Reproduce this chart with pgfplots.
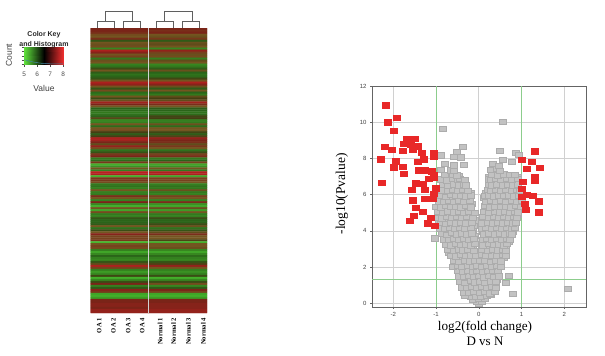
\documentclass[border=0pt]{standalone}
\usepackage{pgfplots}
\pgfplotsset{compat=1.18}
\usepackage{fontspec}
\setmainfont{Liberation Serif}
\newfontfamily\sansf{Liberation Sans}
\definecolor{gfill}{RGB}{194,194,194}
\definecolor{gedge}{RGB}{172,172,172}
\definecolor{rfill}{RGB}{232,40,40}
\definecolor{gline}{RGB}{140,205,140}
\definecolor{gridc}{RGB}{208,208,208}
\definecolor{framec}{RGB}{100,100,100}
\definecolor{dend}{RGB}{95,95,95}
\begin{document}
\begin{tikzpicture}[x=1pt,y=1pt]
\useasboundingbox (0pt,0pt) rectangle (605pt,356pt);
% heat map
\begin{axis}[at={(90.7pt,43pt)},anchor=south west,scale only axis,width=116.3pt,height=285pt,
 hide axis,xmin=-0.5,xmax=1.5,ymin=0.5,ymax=143.5,y dir=reverse,
 colormap={hm}{rgb255(0)=(70,185,45) rgb255(1)=(55,135,32) rgb255(2)=(42,100,25) rgb255(3)=(68,62,18) rgb255(4)=(115,85,32) rgb255(5)=(122,36,24) rgb255(6)=(185,32,32)},
 point meta min=5,point meta max=8]
\addplot[matrix plot*,mesh/cols=2,point meta=explicit] table[meta=v,row sep=\\]{
x y v\\
0 1 7.5\\1 1 7.5\\0 2 7.5\\1 2 7.4\\0 3 7.4\\1 3 7.5\\0 4 7.1\\1 4 7.0\\0 5 7.0\\1 5 6.9\\0 6 7.4\\1 6 7.3\\0 7 6.2\\1 7 6.1\\0 8 7.0\\1 8 6.9\\0 9 6.9\\1 9 6.8\\0 10 7.1\\1 10 7.0\\
0 11 5.5\\1 11 5.5\\0 12 7.9\\1 12 7.7\\0 13 7.6\\1 13 7.2\\0 14 7.0\\1 14 6.9\\0 15 7.2\\1 15 7.1\\0 16 5.7\\1 16 5.6\\0 17 6.9\\1 17 6.8\\0 18 7.0\\1 18 7.0\\0 19 5.6\\1 19 5.5\\0 20 5.8\\1 20 5.7\\
0 21 6.3\\1 21 6.1\\0 22 7.0\\1 22 6.9\\0 23 6.1\\1 23 6.0\\0 24 5.8\\1 24 5.8\\0 25 6.0\\1 25 5.9\\0 26 6.2\\1 26 6.4\\0 27 7.0\\1 27 7.0\\0 28 7.9\\1 28 7.9\\0 29 7.7\\1 29 7.6\\0 30 7.0\\1 30 6.9\\
0 31 6.2\\1 31 6.1\\0 32 7.1\\1 32 7.0\\0 33 5.9\\1 33 6.0\\0 34 5.7\\1 34 5.7\\0 35 7.0\\1 35 6.8\\0 36 6.3\\1 36 6.5\\0 37 6.9\\1 37 6.8\\0 38 7.8\\1 38 7.8\\0 39 7.5\\1 39 7.4\\0 40 7.0\\1 40 7.0\\
0 41 6.0\\1 41 6.1\\0 42 5.9\\1 42 6.0\\0 43 5.7\\1 43 5.8\\0 44 5.8\\1 44 5.9\\0 45 6.0\\1 45 6.4\\0 46 6.7\\1 46 6.5\\0 47 5.5\\1 47 5.6\\0 48 5.6\\1 48 5.7\\0 49 7.0\\1 49 6.9\\0 50 5.9\\1 50 5.9\\
0 51 7.0\\1 51 7.0\\0 52 7.1\\1 52 7.0\\0 53 6.5\\1 53 6.4\\0 54 6.1\\1 54 6.1\\0 55 6.5\\1 55 6.6\\0 56 7.9\\1 56 7.7\\0 57 7.8\\1 57 7.5\\0 58 7.5\\1 58 7.4\\0 59 6.8\\1 59 6.8\\0 60 7.7\\1 60 7.3\\
0 61 7.1\\1 61 7.0\\0 62 5.8\\1 62 5.8\\0 63 6.2\\1 63 6.3\\0 64 7.3\\1 64 7.2\\0 65 7.5\\1 65 7.4\\0 66 5.7\\1 66 5.7\\0 67 5.9\\1 67 6.0\\0 68 7.3\\1 68 7.2\\0 69 5.1\\1 69 5.2\\0 70 5.4\\1 70 5.4\\
0 71 7.0\\1 71 7.0\\0 72 5.6\\1 72 5.7\\0 73 8.0\\1 73 7.9\\0 74 7.9\\1 74 7.9\\0 75 5.1\\1 75 5.2\\0 76 7.3\\1 76 7.2\\0 77 7.3\\1 77 7.2\\0 78 7.1\\1 78 7.0\\0 79 5.7\\1 79 5.6\\0 80 5.8\\1 80 5.8\\
0 81 5.6\\1 81 5.7\\0 82 7.0\\1 82 6.9\\0 83 5.6\\1 83 5.7\\0 84 5.7\\1 84 5.6\\0 85 7.4\\1 85 7.2\\0 86 7.0\\1 86 7.0\\0 87 5.6\\1 87 5.6\\0 88 7.5\\1 88 7.4\\0 89 5.5\\1 89 5.4\\0 90 5.1\\1 90 5.2\\
0 91 7.0\\1 91 6.9\\0 92 5.2\\1 92 5.3\\0 93 7.1\\1 93 7.0\\0 94 5.7\\1 94 5.7\\0 95 5.6\\1 95 5.6\\0 96 6.2\\1 96 6.3\\0 97 6.0\\1 97 6.0\\0 98 6.0\\1 98 6.0\\0 99 6.1\\1 99 6.3\\0 100 7.0\\1 100 6.9\\
0 101 5.8\\1 101 5.8\\0 102 6.3\\1 102 6.2\\0 103 7.0\\1 103 6.8\\0 104 7.6\\1 104 7.4\\0 105 7.2\\1 105 7.0\\0 106 7.2\\1 106 7.0\\0 107 7.3\\1 107 6.6\\0 108 5.0\\1 108 5.1\\0 109 7.0\\1 109 7.0\\0 110 7.2\\1 110 7.0\\
0 111 7.1\\1 111 6.9\\0 112 5.6\\1 112 5.5\\0 113 5.2\\1 113 5.2\\0 114 5.5\\1 114 5.5\\0 115 6.0\\1 115 5.9\\0 116 5.6\\1 116 5.6\\0 117 5.5\\1 117 5.5\\0 118 6.2\\1 118 6.2\\0 119 6.8\\1 119 6.6\\0 120 7.9\\1 120 7.7\\
0 121 7.2\\1 121 7.0\\0 122 5.6\\1 122 5.6\\0 123 5.3\\1 123 5.4\\0 124 5.5\\1 124 5.6\\0 125 6.4\\1 125 6.3\\0 126 5.1\\1 126 5.1\\0 127 5.5\\1 127 5.5\\0 128 6.3\\1 128 6.3\\0 129 7.5\\1 129 7.1\\0 130 5.6\\1 130 5.5\\
0 131 6.1\\1 131 6.1\\0 132 7.6\\1 132 7.5\\0 133 7.3\\1 133 7.2\\0 134 5.2\\1 134 5.2\\0 135 5.1\\1 135 5.1\\0 136 5.3\\1 136 5.3\\0 137 7.5\\1 137 7.5\\0 138 7.5\\1 138 7.5\\0 139 7.6\\1 139 7.6\\0 140 7.6\\1 140 7.6\\
0 141 7.5\\1 141 7.6\\0 142 7.7\\1 142 7.7\\0 143 7.7\\1 143 7.7\\
};
\addplot[draw=white!82!black,line width=0.8pt] coordinates {(0.5,0.5) (0.5,143.5)};
\end{axis}
% dendrogram
\begin{scope}[draw=dend,line width=0.9pt]
\draw (97.3,328)--(97.3,334.3)--(114.7,334.3)--(114.7,328);
\draw (123.3,328)--(123.3,335)--(140.7,335)--(140.7,328);
\draw (105.3,334.3)--(105.3,345)--(132.7,345)--(132.7,335);
\draw (156.7,328)--(156.7,334.3)--(173.7,334.3)--(173.7,328);
\draw (182.3,328)--(182.3,335)--(199.3,335)--(199.3,328);
\draw (164.3,334.3)--(164.3,345)--(192,345)--(192,335);
\end{scope}
% column labels
\begin{scope}[font=\fontsize{6.6}{7}\selectfont\bfseries]
\node[rotate=90,anchor=east,inner sep=0pt] at (99.3,38) {OA 1};
\node[rotate=90,anchor=east,inner sep=0pt] at (113.5,38) {OA 2};
\node[rotate=90,anchor=east,inner sep=0pt] at (128.3,38) {OA 3};
\node[rotate=90,anchor=east,inner sep=0pt] at (142.3,38) {OA 4};
\node[rotate=90,anchor=east,inner sep=0pt] at (160,38) {Normal 1};
\node[rotate=90,anchor=east,inner sep=0pt] at (173.5,38) {Normal 2};
\node[rotate=90,anchor=east,inner sep=0pt] at (188.3,38) {Normal 3};
\node[rotate=90,anchor=east,inner sep=0pt] at (203.3,38) {Normal 4};
\end{scope}
% colour key
\begin{axis}[at={(24.3pt,291.7pt)},anchor=south west,scale only axis,width=39pt,height=17pt,
 xmin=5,xmax=8,ymin=0,ymax=1,view={0}{90},
 colormap={key}{rgb255(0)=(95,225,60) rgb255(1)=(0,0,0) rgb255(2)=(235,45,45)},
 xtick={5,6,7,8},ytick={0,0.25,0.5,0.75,1},yticklabels={},
 tick align=outside,tick style={draw=black!70,line width=0.4pt},major tick length=2.5pt,
 axis line style={draw=black!40,line width=0.4pt},
 /pgf/number format/assume math mode=true,
 tick label style={font=\fontsize{6.5}{7}\selectfont\sansf,text=black!70},
 xticklabel style={yshift=-2pt},xtick pos=bottom,ytick pos=left]
\addplot[surf,shader=interp,point meta=x,mesh/rows=2] coordinates {(5,0) (6.5,0) (8,0) (5,1) (6.5,1) (8,1)};
\addplot[draw=cyan!60!black,line width=0.5pt] coordinates {(5,0.28) (5.3,0.2) (5.8,0.12) (6.3,0.06) (7,0.03) (8,0.02)};
\end{axis}
\node[font=\fontsize{7}{7}\selectfont\sansf\bfseries,text=black!85] at (44,321.3) {Color Key};
\node[font=\fontsize{7}{7}\selectfont\sansf\bfseries,text=black!85] at (44,311.7) {and Histogram};
\node[font=\fontsize{8.5}{8}\selectfont\sansf,rotate=90,text=black!75] at (9,301) {Count};
\node[font=\fontsize{8.5}{8}\selectfont\sansf,text=black!75] at (44,267.3) {Value};
% volcano
\begin{axis}[at={(372pt,49pt)},anchor=south west,scale only axis,width=214pt,height=221pt,
 xmin=-2.5,xmax=2.51,ymin=-0.2,ymax=12,
 xtick={-2,-1,0,1,2},ytick={0,2,4,6,8,10,12},
 grid=major,grid style={draw=gridc,line width=0.8pt},
 axis line style={draw=framec,line width=0.8pt},
 tick style={draw=framec,line width=0.4pt},major tick length=2pt,tick align=outside,
 xtick pos=bottom,ytick pos=left,
 /pgf/number format/assume math mode=true,
 tick label style={font=\fontsize{6}{6}\selectfont\sansf,text=black!75}]
\addplot[only marks,mark=square*,mark size=2.8pt,mark options={xscale=1.25,yscale=0.95,fill=gfill,draw=gedge,line width=0.3pt}] coordinates {
(-.38,1.05)(-.26,1.03)(-.14,1.07)(-.02,1.04)(.1,1.06)(.22,1.03)(.34,1.07)
(-.4,1.35)(-.28,1.33)(-.16,1.37)(-.04,1.34)(.08,1.36)(.2,1.33)(.32,1.37)(.42,1.34)
(-.44,1.65)(-.32,1.63)(-.2,1.67)(-.08,1.64)(.04,1.66)(.16,1.63)(.28,1.67)(.4,1.64)
(-.52,2.2)(-.4,2.18)(-.28,2.22)(-.16,2.19)(-.04,2.21)(.08,2.18)(.22,2.22)(.34,2.19)(.46,2.21)
(-.6,2.5)(-.5,2.48)(-.38,2.52)(-.26,2.49)(-.14,2.51)(-.03,2.48)(.1,2.52)(.22,2.49)(.35,2.51)(.47,2.48)(.58,2.52)
(-.7,2.8)(-.56,2.78)(-.44,2.82)(-.32,2.79)(-.2,2.81)(-.1,2.78)(.12,2.82)(.24,2.79)(.36,2.81)(.5,2.78)(.6,2.82)
(-.74,3.1)(-.62,3.08)(-.5,3.12)(-.38,3.09)(-.26,3.11)(-.14,3.08)(.14,3.12)(.26,3.09)(.4,3.11)(.52,3.08)(.62,3.12)
(-.76,3.4)(-.64,3.38)(-.52,3.42)(-.4,3.39)(-.28,3.41)(-.16,3.38)(.14,3.42)(.25,3.39)(.38,3.41)(.5,3.38)(.62,3.42)(.7,3.39)
(-.82,3.7)(-.7,3.68)(-.58,3.72)(-.46,3.69)(-.34,3.71)(-.22,3.68)(-.1,3.72)(.16,3.69)(.28,3.71)(.42,3.68)(.54,3.72)(.66,3.69)
(-.86,4)(-.74,3.98)(-.62,4.02)(-.5,3.99)(-.38,4.01)(-.26,3.98)(-.14,4.02)(.1,3.99)(.22,4.01)(.34,3.98)(.46,4.02)(.58,3.99)(.7,4.01)(.8,3.98)
(-.86,4.3)(-.74,4.28)(-.62,4.32)(-.5,4.29)(-.38,4.31)(-.26,4.28)(-.12,4.32)(.12,4.29)(.24,4.31)(.36,4.28)(.48,4.32)(.6,4.29)(.72,4.31)(.84,4.28)
(-.94,4.6)(-.82,4.58)(-.7,4.62)(-.58,4.59)(-.46,4.61)(-.34,4.58)(-.22,4.62)(-.1,4.59)(.14,4.61)(.26,4.58)(.38,4.62)(.5,4.59)(.62,4.61)(.74,4.58)(.86,4.62)
(-.9,4.9)(-.78,4.88)(-.66,4.92)(-.54,4.89)(-.42,4.91)(-.3,4.88)(-.18,4.92)(.16,4.89)(.28,4.91)(.4,4.88)(.52,4.92)(.64,4.89)(.76,4.91)(.9,4.88)
(-.92,5.2)(-.8,5.18)(-.68,5.22)(-.56,5.19)(-.44,5.21)(-.32,5.18)(-.2,5.22)(.18,5.19)(.3,5.21)(.42,5.18)(.54,5.22)(.66,5.19)(.8,5.21)(.94,5.18)
(-.88,5.5)(-.76,5.48)(-.64,5.52)(-.52,5.49)(-.4,5.51)(-.28,5.48)(-.16,5.52)(.2,5.49)(.32,5.51)(.44,5.48)(.56,5.52)(.68,5.49)(.82,5.51)(.94,5.48)
(-.84,5.8)(-.72,5.78)(-.6,5.82)(-.48,5.79)(-.36,5.81)(-.24,5.78)(.12,5.82)(.26,5.79)(.38,5.81)(.5,5.78)(.62,5.82)(.76,5.79)(.9,5.81)
(-.82,6.1)(-.7,6.08)(-.58,6.12)(-.46,6.09)(-.34,6.11)(-.2,6.08)(.16,6.12)(.3,6.09)(.44,6.11)(.56,6.08)(.7,6.12)(.82,6.09)(.94,6.11)
(-.8,6.4)(-.68,6.38)(-.56,6.42)(-.44,6.39)(-.3,6.41)(.22,6.38)(.36,6.42)(.48,6.39)(.6,6.41)(.72,6.38)(.86,6.42)
(-.78,6.7)(-.66,6.68)(-.54,6.72)(-.42,6.69)(-.34,6.71)(.24,6.68)(.36,6.72)(.48,6.69)(.6,6.71)(.72,6.68)(.86,6.72)
(-.7,7)(-.56,6.98)(-.46,7.02)(.24,6.99)(.36,7.01)(.5,6.98)(.64,7.02)(.78,6.99)(.92,7.01)
(0,.02)(-.06,.1)(.07,.12)(-.14,.22)(0,.25)(.13,.25)(-.2,.38)(-.08,.4)(.05,.38)(.18,.42)(-.33,.45)(.27,.5)
(-.36,.62)(-.24,.58)(-.12,.66)(.01,.6)(.13,.64)(.25,.57)(.36,.63)
(-.4,.9)(-.29,.86)(-.17,.94)(-.05,.88)(.07,.92)(.19,.85)(.31,.93)(.4,.88)
(-.44,1.2)(-.32,1.16)(-.2,1.24)(-.09,1.18)(.03,1.22)(.14,1.15)(.27,1.23)(.39,1.19)
(-.46,1.5)(-.36,1.46)(-.24,1.54)(-.12,1.48)(0,1.52)(.11,1.45)(.23,1.53)(.35,1.47)(.46,1.51)
(-.5,1.8)(-.38,1.77)(-.27,1.84)(-.15,1.78)(-.04,1.82)(.08,1.76)(.2,1.83)(.32,1.79)(.44,1.81)
(-.62,2.02)(-.5,2.08)(-.39,2.04)(-.26,2.1)(-.15,2.03)(-.05,2.07)(.06,2.02)(.18,2.09)(.3,2.04)(.42,2.08)(.5,2.03)
(-.58,2.35)(-.46,2.31)(-.34,2.39)(-.22,2.33)(-.1,2.37)(.03,2.34)(.14,2.38)(.27,2.32)(.39,2.36)(.52,2.33)
(-.66,2.65)(-.54,2.61)(-.43,2.69)(-.31,2.63)(-.2,2.67)(-.08,2.62)(.06,2.68)(.17,2.62)(.29,2.67)(.41,2.63)(.55,2.68)(.62,2.62)
(-.72,2.95)(-.6,2.91)(-.48,2.99)(-.37,2.93)(-.25,2.97)(-.13,2.92)(.07,2.98)(.2,2.92)(.32,2.97)(.44,2.93)(.56,2.98)(.64,2.92)
(-.78,3.25)(-.66,3.21)(-.55,3.29)(-.43,3.23)(-.31,3.27)(-.2,3.22)(-.1,3.28)(.1,3.22)(.22,3.28)(.34,3.23)(.46,3.27)(.58,3.22)(.66,3.28)
(-1.03,3.6)(-.82,3.55)(-.7,3.51)(-.58,3.59)(-.46,3.53)(-.35,3.57)(-.24,3.52)(-.12,3.58)(.08,3.52)(.19,3.58)(.3,3.53)(.42,3.57)(.54,3.52)(.66,3.58)(.72,3.53)
(-.88,3.85)(-.76,3.81)(-.64,3.89)(-.52,3.83)(-.4,3.87)(-.28,3.82)(-.16,3.88)(.12,3.82)(.24,3.88)(.36,3.83)(.48,3.87)(.6,3.82)(.72,3.88)(.76,3.83)
(-.92,4.15)(-.8,4.11)(-.68,4.19)(-.56,4.13)(-.44,4.17)(-.32,4.12)(-.2,4.18)(.06,4.12)(.17,4.18)(.29,4.13)(.41,4.17)(.53,4.12)(.65,4.18)(.77,4.13)(.83,4.17)
(-.9,4.45)(-.78,4.41)(-.66,4.49)(-.54,4.43)(-.42,4.47)(-.3,4.42)(-.17,4.48)(.07,4.42)(.2,4.48)(.32,4.43)(.44,4.47)(.56,4.42)(.68,4.48)(.8,4.43)(.86,4.47)
(-1,4.75)(-.88,4.71)(-.76,4.79)(-.64,4.73)(-.52,4.77)(-.4,4.72)(-.28,4.78)(-.14,4.72)(.1,4.78)(.22,4.72)(.34,4.77)(.46,4.73)(.58,4.77)(.7,4.72)(.82,4.78)(.88,4.73)
(-.96,5.05)(-.84,5.01)(-.72,5.09)(-.6,5.03)(-.48,5.07)(-.36,5.02)(-.24,5.08)(-.1,5.02)(.12,5.08)(.24,5.02)(.36,5.07)(.48,5.03)(.6,5.07)(.72,5.02)(.84,5.08)(.92,5.03)
(-1,5.35)(-.9,5.31)(-.78,5.39)(-.66,5.33)(-.54,5.37)(-.42,5.32)(-.3,5.38)(-.18,5.32)(.14,5.38)(.26,5.32)(.38,5.37)(.5,5.33)(.62,5.37)(.74,5.32)(.86,5.38)(.98,5.33)
(-.95,5.65)(-.83,5.61)(-.71,5.69)(-.59,5.63)(-.47,5.67)(-.35,5.62)(-.22,5.68)(.16,5.62)(.28,5.68)(.4,5.63)(.52,5.67)(.64,5.62)(.76,5.68)(.88,5.63)(1,5.67)
(-.9,5.95)(-.78,5.91)(-.66,5.99)(-.54,5.93)(-.42,5.97)(-.3,5.92)(-.2,5.97)(.14,5.96)(.22,5.98)(.34,5.92)(.46,5.97)(.58,5.93)(.7,5.97)(.82,5.92)(.94,5.98)
(-.88,6.25)(-.74,6.21)(-.62,6.29)(-.5,6.23)(-.38,6.27)(-.27,6.24)(.2,6.26)(.28,6.22)(.4,6.28)(.52,6.23)(.64,6.27)(.76,6.22)(.88,6.28)(.96,6.23)
(-.85,6.55)(-.72,6.51)(-.6,6.59)(-.47,6.53)(-.36,6.57)(-.3,6.52)(.22,6.57)(.3,6.52)(.42,6.58)(.55,6.53)(.67,6.57)(.8,6.52)(.92,6.58)
(-.9,6.85)(-.75,6.81)(-.62,6.89)(-.5,6.83)(-.44,6.87)(-.34,6.82)(.22,6.86)(.28,6.82)(.4,6.88)(.52,6.83)(.66,6.87)(.78,6.82)(.9,6.88)
(-.8,7.1)(-.62,7.14)(-.52,7.08)(.3,7.12)(.44,7.08)(.58,7.14)(.72,7.1)(.84,7.12)
(-.9,7.4)(-.66,7.36)(-.58,7.32)(.28,7.38)(.42,7.45)(.48,7.32)
(-.84,9.64)(-.375,8.67)(-.53,8.36)(-.58,8.1)(-.42,8.07)(-.89,8.18)(-.36,7.67)(-.8,7.7)(-.59,7.63)
(.55,10.05)(.48,8.44)(.86,8.33)(.55,7.95)(.93,8.2)(.77,7.82)(.32,7.73)(.46,7.6)
(.69,1.54)(.64,1.15)(.8,.53)(2.07,.83)
};
\addplot[draw=gline,line width=1.1pt] coordinates {(-1,-0.2) (-1,12)};
\addplot[draw=gline,line width=1.1pt] coordinates {(1,-0.2) (1,12)};
\addplot[draw=gline,line width=0.8pt] coordinates {(-2.5,1.3) (2.51,1.3)};
\addplot[only marks,mark=square*,mark size=2.8pt,mark options={xscale=1.25,yscale=0.95,fill=rfill,draw=rfill,line width=0.2pt}] coordinates {
(-2.18,10.95)(-2.13,10)(-1.92,10.24)(-1.99,9.53)(-2.2,8.64)(-2.04,8.49)(-2.3,7.96)(-2.27,6.67)
(-1.7,9.09)(-1.5,9.09)(-1.77,8.82)(-1.78,8.45)(-1.59,8.78)(-1.44,8.69)(-1.55,8.51)(-1.34,8.33)
(-1.94,7.85)(-1.99,7.53)(-1.78,7.56)(-1.77,7.16)(-1.44,7.82)(-1.3,7.96)(-1.42,7.36)(-1.26,7.35)
(-1.1,7.31)(-1.05,7.1)(-1.18,6.87)(-1.06,6.95)(-1.05,8.33)(-1.06,8.13)(-1.47,6.64)(-1.31,6.62)
(-1.57,6.29)(-1.26,6.29)(-1.02,6.36)(-1.55,5.71)(-1.26,5.8)(-1.08,5.8)(-1.06,6.07)(-1.49,5.28)
(-1.31,5.05)(-1.13,4.75)(-1.53,4.86)(-1.61,4.57)(-1.2,4.44)(-1.04,4.28)
(1.3,8.4)(1,7.93)(1.24,7.84)(1.42,7.51)(1.12,7.45)(1.3,7)(1.3,6.78)(1.02,6.71)(1.01,6.33)
(1.01,5.89)(1.13,6)(1.25,5.96)(1.41,5.65)(1.08,5.52)(1.09,5.16)(1.41,5.03)
};
\end{axis}
\node[font=\fontsize{13.2}{14}\selectfont] at (485,29) {log2(fold change)};
\node[font=\fontsize{13}{14}\selectfont] at (485,14.5) {D vs N};
\node[font=\fontsize{13.5}{14}\selectfont,rotate=90] at (342,162) {-log10(Pvalue)};
\end{tikzpicture}
\end{document}
